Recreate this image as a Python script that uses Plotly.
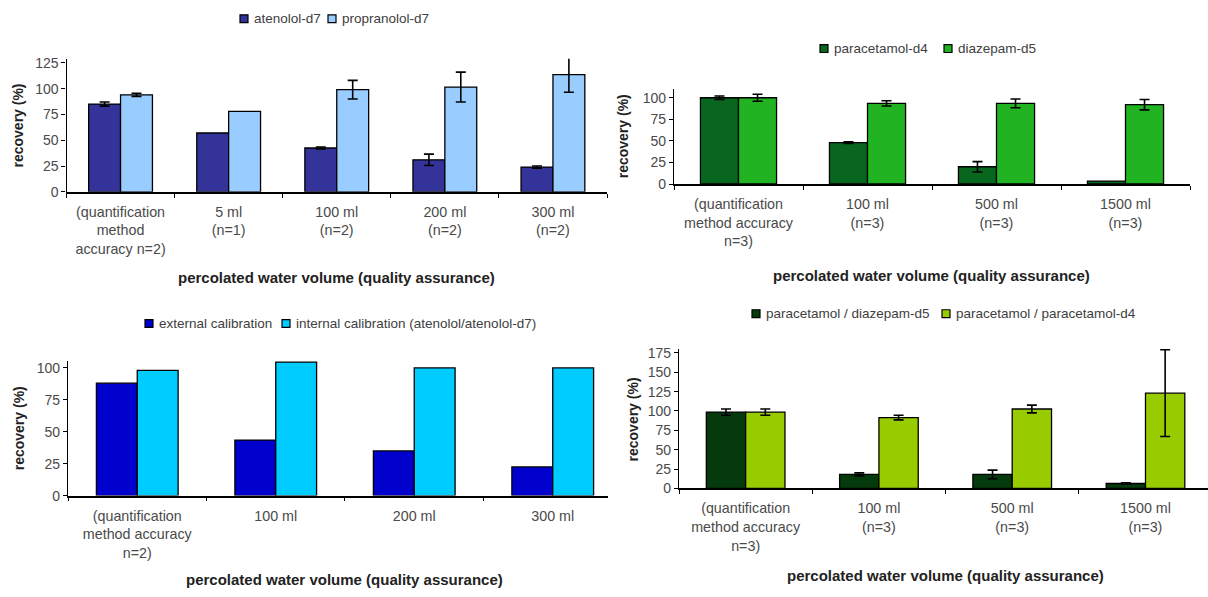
import plotly.graph_objects as go

# ---------------- data ----------------
# top-left: internal standards, beta-blockers
cats_a = ["(quantification<br>method<br>accuracy n=2)", "5 ml<br>(n=1)", "100 ml<br>(n=2)",
          "200 ml<br>(n=2)", "300 ml<br>(n=2)"]
atenolol_d7 = [85, 57, 42.5, 31, 24]
atenolol_d7_err = [2, None, 1, 5.5, 1]
propranolol_d7 = [94, 78, 99, 101.5, 113.5]
propranolol_d7_err = [1.5, None, 9, 14.5, 17]

# top-right: internal standards, paracetamol / diazepam
cats_b = ["(quantification<br>method accuracy<br>n=3)", "100 ml<br>(n=3)", "500 ml<br>(n=3)",
          "1500 ml<br>(n=3)"]
paracetamol_d4 = [100, 48, 20, 3.4]
paracetamol_d4_err = [2, 1, 6, None]
diazepam_d5 = [100, 93.5, 93.5, 92]
diazepam_d5_err = [4, 3, 5, 6]

# bottom-left: atenolol, external vs internal calibration
cats_c = ["(quantification<br>method accuracy<br>n=2)", "100 ml", "200 ml", "300 ml"]
external_cal = [88, 43.5, 35, 22.5]
internal_cal = [98, 104.5, 100, 100]

# bottom-right: paracetamol with two internal standards
cats_d = ["(quantification<br>method accuracy<br>n=3)", "100 ml<br>(n=3)", "500 ml<br>(n=3)",
          "1500 ml<br>(n=3)"]
para_diaz = [98.5, 18, 18, 6.3]
para_diaz_err = [4, 2, 5.5, 1]
para_para = [98.5, 91.5, 102.5, 123]
para_para_err = [4, 3, 5, 56]

y_ticks_a = [0, 25, 50, 75, 100, 125]
y_ticks_b = [0, 25, 50, 75, 100]
y_ticks_c = [0, 25, 50, 75, 100]
y_ticks_d = [0, 25, 50, 75, 100, 125, 150, 175]

# ---------------- styling ----------------
W, H = 1208, 597
FONT = "Liberation Sans, Arial, sans-serif"
TICK_COLOR = "#4a4a4a"
TITLE_COLOR = "#222222"
LEGEND_COLOR = "#404040"


def px_x(p):
    return p / W


def px_y(p):
    return 1 - p / H


def err_array(err):
    # "NaN" strings make plotly.js skip the error bar for that point
    return [e if e is not None else "NaN" for e in err]


fig = go.Figure()
legend_items = {}  # panel -> list of (name, color)


def add_bar(name, cats, vals, err, color, panel):
    kw = {}
    if err is not None:
        kw["error_y"] = dict(type="data", array=err_array(err), visible=True,
                             color="#000000", thickness=1.6, width=5)
    fig.add_trace(go.Bar(
        name=name, x=cats, y=vals, xaxis="x" + panel, yaxis="y" + panel,
        marker=dict(color=color, line=dict(color="#000000", width=1.3)),
        showlegend=False, **kw))
    legend_items.setdefault(panel, []).append((name, color))


add_bar("atenolol-d7", cats_a, atenolol_d7, atenolol_d7_err, "#333399", "")
add_bar("propranolol-d7", cats_a, propranolol_d7, propranolol_d7_err, "#99CCFF", "")
add_bar("paracetamol-d4", cats_b, paracetamol_d4, paracetamol_d4_err, "#08661F", "2")
add_bar("diazepam-d5", cats_b, diazepam_d5, diazepam_d5_err, "#22B322", "2")
add_bar("external calibration", cats_c, external_cal, None, "#0000CC", "3")
add_bar("internal calibration (atenolol/atenolol-d7)", cats_c, internal_cal, None, "#00CCFF", "3")
add_bar("paracetamol / diazepam-d5", cats_d, para_diaz, para_diaz_err, "#043A0C", "4")
add_bar("paracetamol / paracetamol-d4", cats_d, para_para, para_para_err, "#99CC00", "4")

# panel geometry in pixels: x_left, x_right, y_bottom, y_top, y range, x range, y ticks
panels = {
    "": (66.5, 607, 191.7, 55.8, [0, 129], [-0.5, 4.5], y_ticks_a),
    "2": (674, 1190, 183.7, 86.9, [0, 110], [-0.5, 3.5], y_ticks_b),
    "3": (68, 608, 501.7, 364.3, [0, 105.4], [-0.5, 3.399], y_ticks_c),
    "4": (679, 1208, 494.3, 352.1, [0, 180], [-0.5, 3.469], y_ticks_d),
}

for key, (xl, xr, yb, yt, yr, xrng, yt_vals) in panels.items():
    xa = dict(domain=[px_x(xl), px_x(xr)], range=xrng, type="category",
              anchor="y" + key, showline=True, linecolor="#000000", linewidth=1.6,
              ticks="outside", ticklen=4, tickcolor="#000000", tickwidth=1,
              tickson="boundaries", showgrid=False, zeroline=False,
              ticklabelstandoff=6,
              tickfont=dict(family=FONT, size=14.3, color=TICK_COLOR))
    ya = dict(domain=[px_y(yb), px_y(yt)], range=yr, anchor="x" + key,
              showline=True, linecolor="#000000", linewidth=1.3,
              ticks="outside", ticklen=4, tickcolor="#000000", tickwidth=1,
              tickvals=yt_vals, showgrid=False, zeroline=False,
              tickfont=dict(family=FONT, size=14, color=TICK_COLOR))
    fig.layout["xaxis" + key] = xa
    fig.layout["yaxis" + key] = ya

# legends above each panel: square key + label, placed per entry
legend_pos = {
    "": (15, [240, 328]),
    "2": (45.5, [820, 944]),
    "3": (326, [145, 282]),
    "4": (316, [752, 942]),
}
shapes = []
annotations = []
SQ = 8
for panel, (ly, xs) in legend_pos.items():
    for (name, color), x0 in zip(legend_items[panel], xs):
        shapes.append(dict(type="rect", xref="paper", yref="paper",
                           x0=px_x(x0), x1=px_x(x0 + SQ),
                           y0=px_y(ly + SQ / 2), y1=px_y(ly - SQ / 2),
                           fillcolor=color, line=dict(color="#000000", width=1.2)))
        annotations.append(dict(text=name, x=px_x(x0 + SQ + 4), y=px_y(ly),
                                xref="paper", yref="paper", xanchor="left", yanchor="middle",
                                showarrow=False,
                                font=dict(family=FONT, size=13.5, color=LEGEND_COLOR)))

# axis titles
x_title = "percolated water volume (quality assurance)"
for cx, cy in [(336, 279), (931, 277), (344, 587), (946, 583)]:
    annotations.append(dict(text="<b>" + x_title + "</b>", x=px_x(cx), y=px_y(cy),
                            xref="paper", yref="paper", xanchor="center", yanchor="middle",
                            showarrow=False,
                            font=dict(family=FONT, size=15, color=TITLE_COLOR)))
for cx, cy in [(18, 124), (623, 135), (19, 433), (633, 424)]:
    annotations.append(dict(text="<b>recovery (%)</b>", x=px_x(cx), y=px_y(cy),
                            xref="paper", yref="paper", xanchor="center", yanchor="middle",
                            textangle=-90, showarrow=False,
                            font=dict(family=FONT, size=14, color=TITLE_COLOR)))

fig.update_layout(
    width=W, height=H, margin=dict(l=0, r=0, t=0, b=0),
    paper_bgcolor="#ffffff", plot_bgcolor="#ffffff",
    barmode="group", bargap=0.41, bargroupgap=0,
    showlegend=False, annotations=annotations, shapes=shapes,
    font=dict(family=FONT, color=TICK_COLOR),
)

fig.write_html("out.html")
